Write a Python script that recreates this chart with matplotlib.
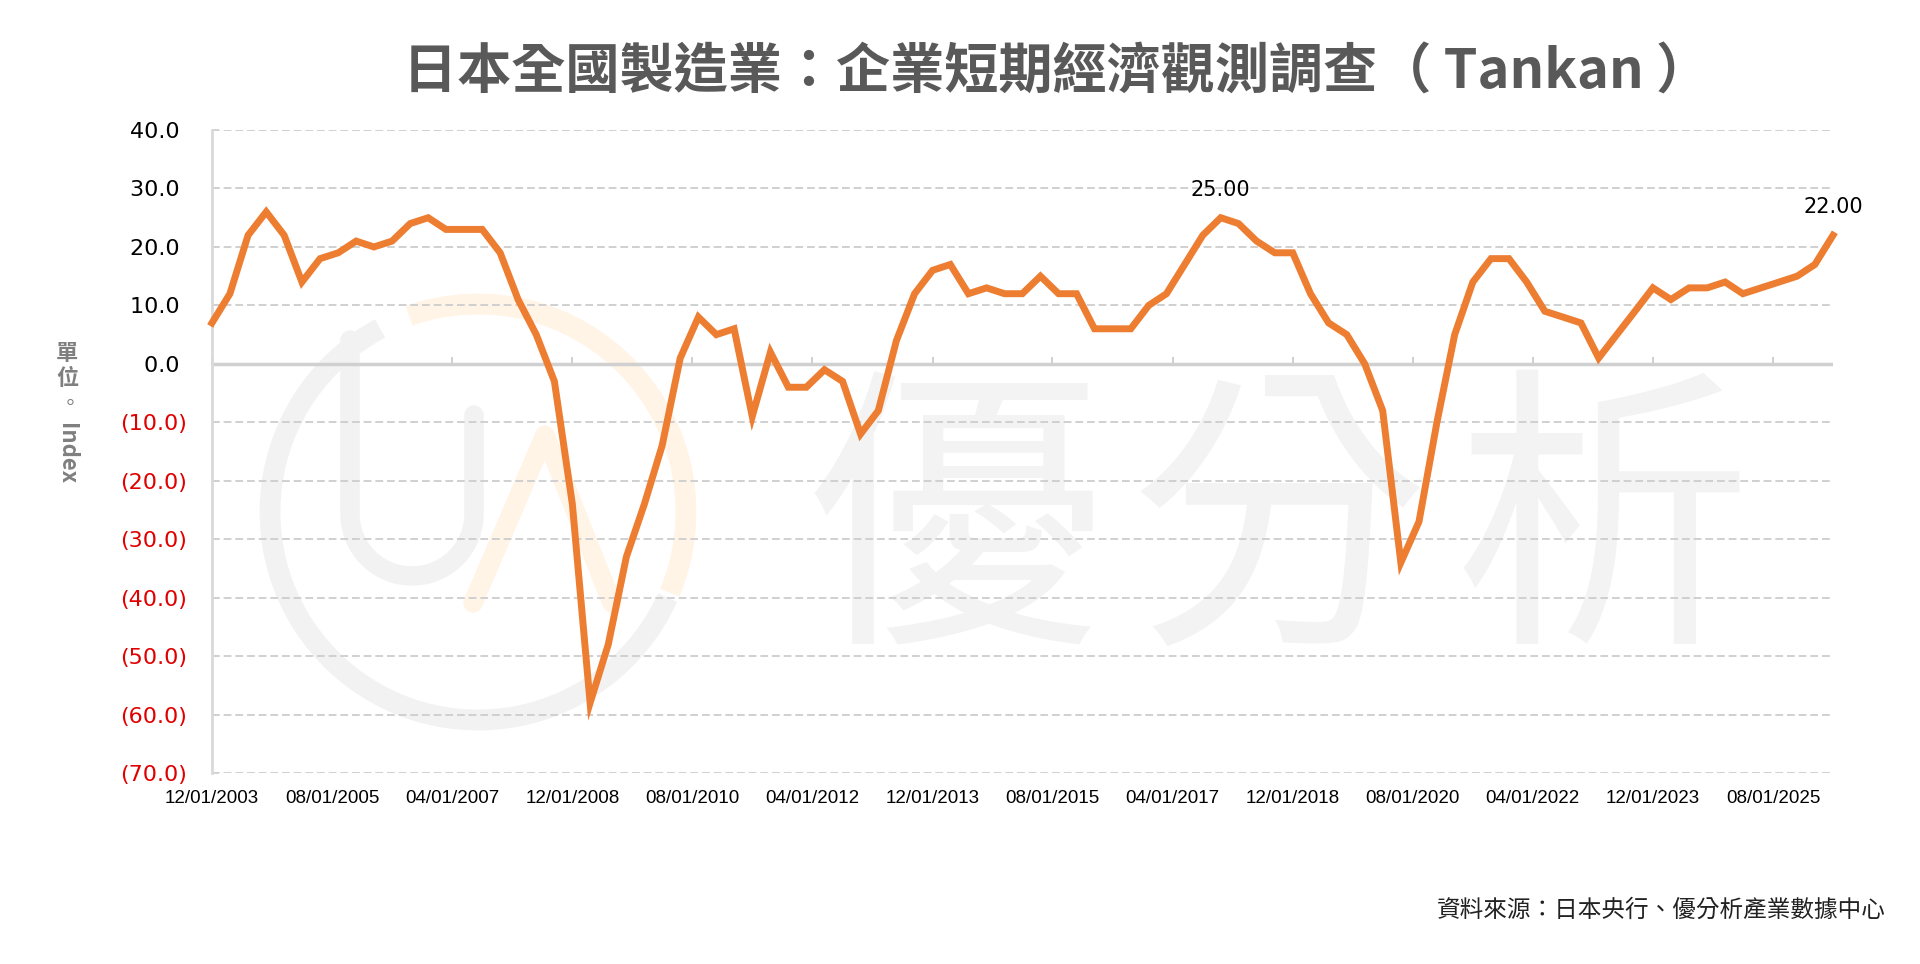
import matplotlib

matplotlib.use("Agg")
import matplotlib.pyplot as plt
import matplotlib.dates as mdates
from matplotlib import font_manager as fm
from matplotlib.patches import Arc
import numpy as np
import pandas as pd

plt.rcParams["font.family"] = ["Noto Sans CJK TC", "DejaVu Sans"]

# ---- data (quarterly) ----
start_date = "2003-12-01"
tankan_values = [
    7, 12, 22, 26, 22, 14, 18, 19, 21, 20, 21, 24, 25, 23, 23, 23,
    19, 11, 5, -3, -24, -58, -48, -33, -24, -14, 1, 8, 5, 6, -9, 2,
    -4, -4, -1, -3, -12, -8, 4, 12, 16, 17, 12, 13, 12, 12, 15, 12,
    12, 6, 6, 6, 10, 12, 17, 22, 25, 24, 21, 19, 19, 12, 7, 5,
    0, -8, -34, -27, -10, 5, 14, 18, 18, 14, 9, 8, 7, 1, 5, 9,
    13, 11, 13, 13, 14, 12, 13, 14, 15, 17, 22,
]
dates = pd.date_range(start_date, periods=len(tankan_values), freq="QS-DEC")
tick_dates = pd.date_range(start_date, "2025-08-01", freq="20MS")
y_ticks = [40, 30, 20, 10, 0, -10, -20, -30, -40, -50, -60, -70]
labelled_points = [56, 90]  # indices of the annotated points (25.00, 22.00)

title = "日本全國製造業：企業短期經濟觀測調查（ Tankan ）"
source = "資料來源：日本央行、優分析產業數據中心"

ORANGE = "#ED7D31"
W, H = 1920, 964


def narrow_font():
    """Pick a narrow face for the date labels if one is installed."""
    for fam, stretch in [("Liberation Sans Narrow", "normal"), ("Noto Sans", "condensed"),
                         ("Open Sans", "condensed")]:
        try:
            path = fm.findfont(fm.FontProperties(family=fam, stretch=stretch),
                               fallback_to_default=False)
        except ValueError:
            continue
        if "Narrow" in path or "Condensed" in path:
            return dict(family=fam, fontstretch=stretch, fontsize=16)
    return dict(family="Liberation Sans", fontstretch="normal", fontsize=13.5)


def px(x, y):
    return x / W, 1 - y / H


fig = plt.figure(figsize=(19.2, 9.64), dpi=100)
ax = fig.add_axes([0.1104, 0.1981, 0.8443, 0.6670])

# ---- watermark (logo + 優分析) ----
GRAY_WM, ORANGE_WM = "#f2f2f2", "#fff4e6"
cx, cy = px(478, 512)
r = 208
ax.add_patch(Arc((cx, cy), 2 * r / W, 2 * r / H, theta1=105, theta2=318,
                 transform=fig.transFigure, ec=GRAY_WM, lw=15, zorder=0.1))
ax.add_patch(Arc((cx, cy), 2 * r / W, 2 * r / H, theta1=-40, theta2=100,
                 transform=fig.transFigure, ec=ORANGE_WM, lw=15, zorder=0.1))
t = np.linspace(np.pi, 2 * np.pi, 40)
ux = np.concatenate([[350, 350], 412 + 62 * np.cos(t), [474]])
uy = np.concatenate([[340, 514], 514 - 62 * np.sin(t), [415]])
ax.plot(ux / W, 1 - uy / H, color=GRAY_WM, lw=14, solid_capstyle="round",
        transform=fig.transFigure, zorder=0.1)
ax.plot(np.array([473, 545, 612]) / W, 1 - np.array([603, 435, 603]) / H, color=ORANGE_WM,
        lw=14, solid_capstyle="round", transform=fig.transFigure, zorder=0.1)
for i, ch in enumerate("優分析"):
    ax.text(*px(955 + i * 324, 536), ch, transform=fig.transFigure, fontsize=215,
            color="#f3f3f3", ha="center", va="center", zorder=0.2)

# ---- line ----
ax.plot(dates, tankan_values, color=ORANGE, lw=5, solid_joinstyle="miter",
        zorder=3, clip_on=False)
for i in labelled_points:
    ax.annotate(f"{tankan_values[i]:.2f}", (dates[i], tankan_values[i]),
                xytext=(0, 13), textcoords="offset points", ha="center", va="bottom",
                fontsize=15, family="DejaVu Sans", color="black")

# ---- axes ----
ax.set_xlim(dates[0], dates[-1])
ax.set_ylim(-70, 40)
ax.set_yticks(y_ticks)
ax.set_yticklabels([f"({abs(v):.1f})" if v < 0 else f"{v:.1f} " for v in y_ticks],
                   family="DejaVu Sans", fontsize=16)
for lab, v in zip(ax.get_yticklabels(), y_ticks):
    lab.set_color("#e00000" if v < 0 else "black")
ax.tick_params(axis="y", direction="in", length=5, width=1.2, color="#d0d0d0", pad=18)

ax.set_xticks(tick_dates)
ax.xaxis.set_major_formatter(mdates.DateFormatter("%m/%d/%Y"))
ax.tick_params(axis="x", length=0, pad=12)
xfont = narrow_font()
for lab in ax.get_xticklabels():
    lab.set_family(xfont["family"])
    lab.set_fontstretch(xfont["fontstretch"])
    lab.set_fontsize(xfont["fontsize"])

ax.grid(True, axis="y", ls=(0, (4, 2)), color="#d0d0d0", lw=1.4)
ax.set_axisbelow(True)
ax.axhline(0, color="#d0d0d0", lw=2.5, zorder=1)
for side in ["top", "right", "bottom"]:
    ax.spines[side].set_visible(False)
ax.spines["left"].set_color("#d9d9d9")
ax.spines["left"].set_linewidth(2)

# small category tick marks sitting on the zero line
sec = ax.secondary_xaxis(70 / 110)
sec.set_xticks(tick_dates)
sec.set_xticklabels([])
sec.tick_params(direction="out", length=5, width=1.2, color="#c8c8c8")
for s in sec.spines.values():
    s.set_visible(False)

# ---- y label (vertical layout) ----
for i, ch in enumerate("單位"):
    fig.text(*px(67, 354 + i * 25), ch, fontsize=16, color="#7f7f7f",
             ha="center", va="center", fontweight="bold")
fig.text(*px(70, 404), "。", fontsize=15, color="#7f7f7f", ha="center", va="center")
fig.text(*px(66, 454), "Index", fontsize=16, color="#7f7f7f", ha="center",
         va="center", rotation=-90, fontweight="bold")

# ---- titles ----
fig.text(*px(1057, 73), title, fontsize=39, fontweight="bold", color="#595959",
         ha="center", va="center")
fig.text(*px(1886, 910), source, fontsize=17, color="#222222", ha="right", va="center")

fig.savefig("out.png", dpi=100)
